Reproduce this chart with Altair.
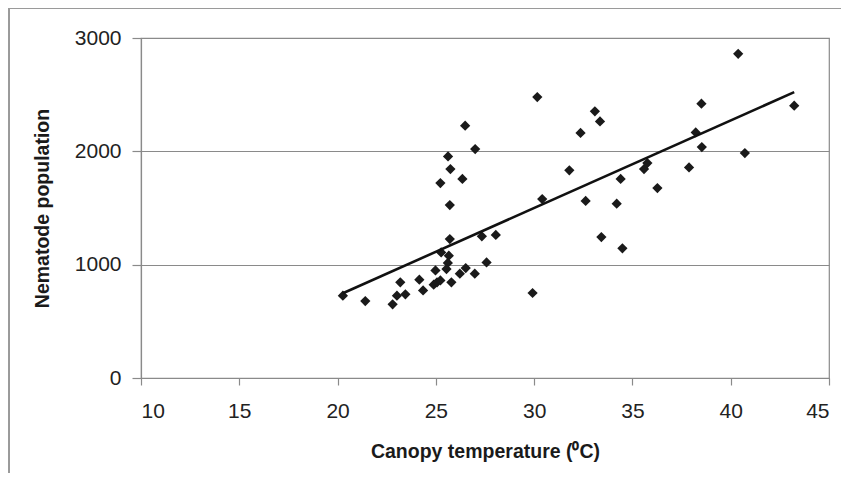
import altair as alt
import pandas as pd

temperature = [20.27, 21.41, 22.80, 23.02, 23.45, 23.19, 24.16, 24.35, 24.89, 25.06,
               25.23, 24.98, 25.27, 25.71, 25.66, 25.61, 25.54, 25.79, 26.22, 26.52,
               26.98, 27.58, 27.34, 28.05, 25.71, 25.23, 25.74, 25.62, 26.35, 27.00,
               26.49, 29.92, 30.16, 30.41, 31.79, 32.62, 32.36, 33.09, 33.35, 33.42,
               34.20, 34.40, 34.49, 35.59, 35.76, 36.27, 37.88, 38.22, 38.53, 38.51,
               40.38, 40.72, 43.23]
population = [726, 679, 650, 726, 738, 844, 867, 773, 823, 844,
              861, 949, 1108, 1226, 1079, 1015, 961, 844, 920, 970,
              920, 1020, 1250, 1262, 1526, 1720, 1844, 1955, 1756, 2020,
              2226, 750, 2479, 1579, 1832, 1562, 2162, 2353, 2264, 1244,
              1538, 1756, 1144, 1844, 1897, 1676, 1858, 2167, 2038, 2420,
              2861, 1985, 2403]

x_ticks = [10, 15, 20, 25, 30, 35, 40, 45]
y_ticks = [0, 1000, 2000, 3000]

df = pd.DataFrame({"t": temperature, "n": population})

FONT = "Liberation Sans"
GRAY = "#8a8a8a"

x_enc = alt.X("t:Q",
              scale=alt.Scale(domain=[10, 45], nice=False, zero=False),
              axis=alt.Axis(values=x_ticks, title="Canopy temperature (\u2070C)",
                            format="d", grid=False, tickSize=7, labelPadding=15,
                            titlePadding=21))
y_enc = alt.Y("n:Q",
              scale=alt.Scale(domain=[0, 3000], nice=False),
              axis=alt.Axis(values=y_ticks, title="Nematode population",
                            format="d", grid=True, tickSize=9, labelPadding=11,
                            titlePadding=22))

points = alt.Chart(df).mark_point(
    shape="diamond", filled=True, size=105, color="#1a1a1a", opacity=1
).encode(x=x_enc, y=y_enc)

trend = alt.Chart(df).transform_regression("t", "n").mark_line(
    color="#111111", strokeWidth=2.6
).encode(x="t:Q", y="n:Q")

frame = alt.Chart(df).mark_rect(
    fill=None, stroke="#9a9a9a", strokeWidth=1
).encode(x=alt.value(-132), x2=alt.value(760),
         y=alt.value(-30), y2=alt.value(520))

chart = alt.layer(frame, points, trend).properties(
    width=688, height=340,
    autosize=alt.AutoSizeParams(type="none"),
    padding={"left": 133, "top": 30, "right": 12, "bottom": 95},
).configure_view(
    stroke=GRAY, strokeWidth=1.2
).configure_axis(
    domainColor=GRAY, tickColor=GRAY, gridColor=GRAY,
    domainWidth=1.2, tickWidth=1.2, gridWidth=1.2,
    labelFont=FONT, labelFontSize=21, labelColor="#222222",
    titleFont=FONT, titleFontSize=19.5, titleFontWeight="bold", titleColor="#1a1a1a",
)

chart.save("out.html", embed_options={"renderer": "svg", "actions": False})
